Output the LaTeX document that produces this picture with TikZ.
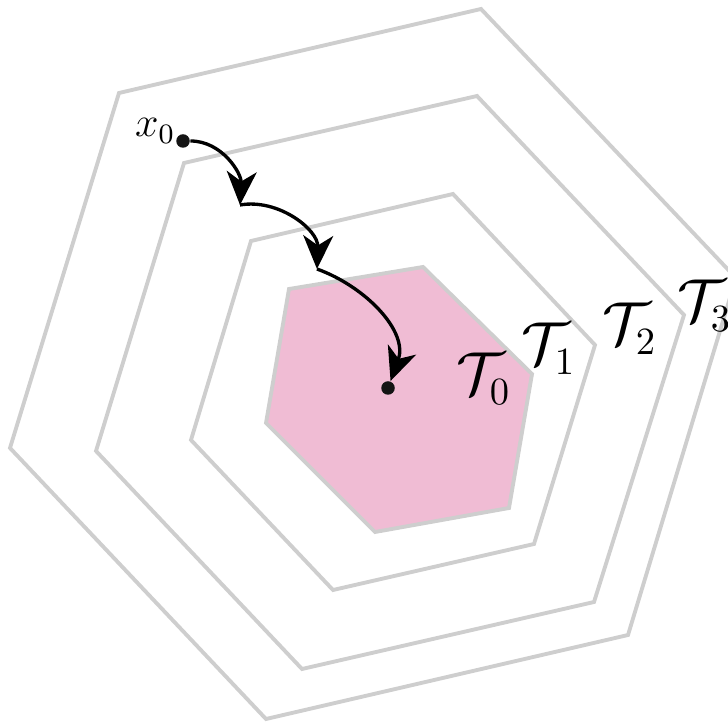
\documentclass[tikz,border=0pt]{standalone}
\usetikzlibrary{arrows.meta}
\definecolor{setpink}{RGB}{240,188,212}
\definecolor{rimgray}{RGB}{206,206,206}
\begin{document}
\begin{tikzpicture}[
    rim/.style={draw=rimgray, line width=1.1pt, line join=miter},
    hop/.style={-{Stealth[length=9.5pt,width=8.5pt,inset=2.8pt]}, line width=0.95pt},
    pt/.style={circle, fill=black!92, inner sep=0pt, minimum size=1.35mm},
    setlabel/.style={anchor=base west, inner sep=0pt, font=\fontsize{16}{19}\selectfont}
  ]
  \useasboundingbox (0,0) rectangle (7.28,7.22);
  \clip (0,0) rectangle (7.28,7.22);

  % nested sets, innermost filled
  \fill[setpink] (2.89,4.33) -- (4.23,4.55) -- (5.32,3.48) -- (5.09,2.14) -- (3.75,1.90) -- (2.66,2.99) -- cycle;
  \draw[rim] (2.89,4.33) -- (4.23,4.55) -- (5.32,3.48) -- (5.09,2.14) -- (3.75,1.90) -- (2.66,2.99) -- cycle;
  \draw[rim] (2.51,4.81) -- (4.53,5.28) -- (5.95,3.77) -- (5.34,1.78) -- (3.33,1.32) -- (1.91,2.82) -- cycle;
  \draw[rim] (1.84,5.59) -- (4.77,6.26) -- (6.84,4.07) -- (5.94,1.20) -- (3.02,0.53) -- (0.96,2.71) -- cycle;
  \draw[rim] (1.19,6.29) -- (4.81,7.13) -- (7.36,4.44) -- (6.28,0.87) -- (2.66,0.03) -- (0.10,2.74) -- cycle;

  \node[setlabel] (lt0) at (4.56,3.27) {$\mathcal{T}_0$};
  \node[setlabel] (lt1) at (5.21,3.57) {$\mathcal{T}_1$};
  \node[setlabel] (lt2) at (6.02,3.77) {$\mathcal{T}_2$};
  \node[setlabel] (lt3) at (6.77,4.00) {$\mathcal{T}_3$};

  % trajectory
  \node[pt] (x0) at (1.83,5.81) {};
  \node[anchor=base east, inner sep=0pt, font=\large] (lx0) at (1.76,5.85) {$x_0$};
  \coordinate (s1) at (2.40,5.17);
  \coordinate (s2) at (3.17,4.53);
  \node[pt] (xf) at (3.88,3.34) {};

  \draw[hop] (x0) to[out=0, in=87] (s1);
  \draw[hop] (s1) to[out=10, in=88] (s2);
  \draw[hop] (s2) to[out=-20, in=70] (xf);
\end{tikzpicture}
\end{document}
